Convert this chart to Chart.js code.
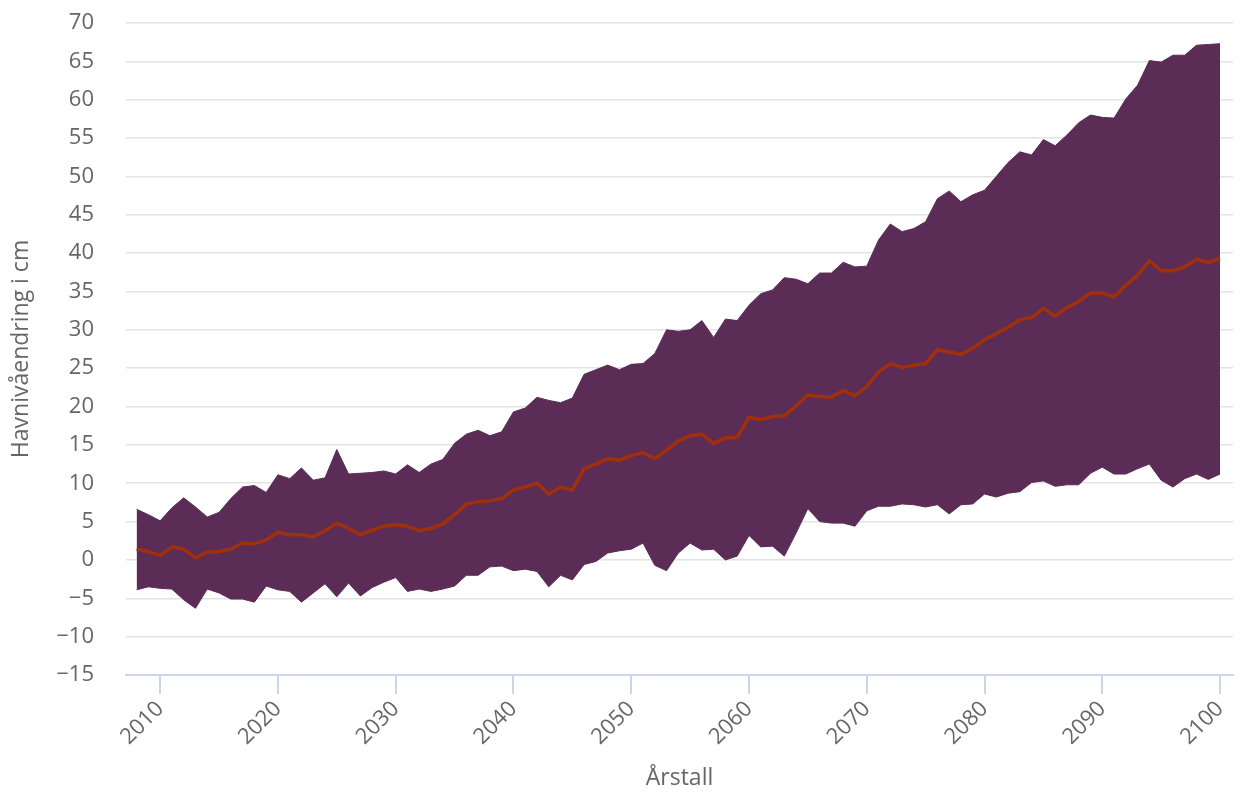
<!DOCTYPE html>
<html>
<head>
<meta charset="utf-8">
<script src="https://cdn.jsdelivr.net/npm/chart.js@4.4.1/dist/chart.umd.min.js"></script>
<style>
html, body { margin: 0; padding: 0; background: #fff; }
#wrap { width: 1241px; height: 794px; }
</style>
</head>
<body>
<div id="wrap"><canvas id="myChart"></canvas></div>
<script>
var years = [2008, 2009, 2010, 2011, 2012, 2013, 2014, 2015, 2016, 2017,
    2018, 2019, 2020, 2021, 2022, 2023, 2024, 2025, 2026, 2027,
    2028, 2029, 2030, 2031, 2032, 2033, 2034, 2035, 2036, 2037,
    2038, 2039, 2040, 2041, 2042, 2043, 2044, 2045, 2046, 2047,
    2048, 2049, 2050, 2051, 2052, 2053, 2054, 2055, 2056, 2057,
    2058, 2059, 2060, 2061, 2062, 2063, 2064, 2065, 2066, 2067,
    2068, 2069, 2070, 2071, 2072, 2073, 2074, 2075, 2076, 2077,
    2078, 2079, 2080, 2081, 2082, 2083, 2084, 2085, 2086, 2087,
    2088, 2089, 2090, 2091, 2092, 2093, 2094, 2095, 2096, 2097,
    2098, 2099, 2100];

// upper edge of the band (cm)
var upper = [6.6, 5.9, 5.1, 6.8, 8.1, 6.9, 5.6, 6.2, 8.0, 9.5,
    9.7, 8.8, 11.1, 10.6, 12.0, 10.4, 10.7, 14.4, 11.2, 11.3,
    11.4, 11.6, 11.2, 12.4, 11.4, 12.5, 13.1, 15.2, 16.4, 16.9,
    16.2, 16.7, 19.3, 19.8, 21.2, 20.8, 20.5, 21.1, 24.2, 24.8,
    25.4, 24.8, 25.5, 25.6, 26.9, 30.0, 29.8, 30.0, 31.2, 29.0,
    31.4, 31.2, 33.2, 34.7, 35.2, 36.8, 36.6, 36.0, 37.4, 37.4,
    38.8, 38.2, 38.3, 41.7, 43.8, 42.8, 43.2, 44.1, 47.1, 48.1,
    46.7, 47.6, 48.2, 50.0, 51.8, 53.2, 52.8, 54.8, 54.0, 55.4,
    57.0, 58.0, 57.7, 57.6, 60.1, 61.9, 65.1, 64.9, 65.8, 65.8,
    67.1, 67.2, 67.3];

// median line (cm)
var median = [1.4, 1.1, 0.6, 1.7, 1.4, 0.3, 1.0, 1.1, 1.4, 2.2,
    2.1, 2.6, 3.6, 3.3, 3.3, 3.0, 3.8, 4.8, 4.1, 3.3,
    3.9, 4.4, 4.6, 4.4, 3.8, 4.1, 4.7, 5.9, 7.3, 7.6,
    7.7, 8.0, 9.1, 9.5, 10.0, 8.6, 9.5, 9.1, 11.9, 12.5,
    13.2, 13.0, 13.6, 14.0, 13.2, 14.3, 15.5, 16.2, 16.4, 15.2,
    15.9, 16.0, 18.6, 18.3, 18.7, 18.8, 20.1, 21.5, 21.3, 21.2,
    22.1, 21.4, 22.6, 24.5, 25.6, 25.1, 25.4, 25.6, 27.4, 27.1,
    26.8, 27.6, 28.7, 29.5, 30.3, 31.3, 31.6, 32.8, 31.8, 32.9,
    33.7, 34.8, 34.8, 34.3, 35.8, 37.1, 39.0, 37.7, 37.7, 38.2,
    39.2, 38.8, 39.3];

// lower edge of the band (cm)
var lower = [-3.9, -3.5, -3.7, -3.8, -5.2, -6.3, -3.8, -4.3, -5.1, -5.1,
    -5.5, -3.4, -3.9, -4.1, -5.5, -4.3, -3.1, -4.8, -3.0, -4.7,
    -3.6, -2.9, -2.3, -4.1, -3.8, -4.1, -3.8, -3.4, -2.0, -2.0,
    -0.9, -0.8, -1.4, -1.2, -1.5, -3.5, -2.0, -2.6, -0.6, -0.2,
    0.9, 1.2, 1.4, 2.2, -0.7, -1.4, 0.9, 2.2, 1.3, 1.4,
    0.0, 0.5, 3.2, 1.7, 1.8, 0.5, 3.5, 6.7, 5.0, 4.8,
    4.8, 4.4, 6.4, 7.0, 7.0, 7.3, 7.2, 6.9, 7.2, 6.0,
    7.2, 7.3, 8.6, 8.2, 8.7, 8.9, 10.1, 10.3, 9.6, 9.8,
    9.8, 11.3, 12.1, 11.2, 11.2, 11.9, 12.5, 10.4, 9.5, 10.6,
    11.2, 10.5, 11.2];

var yearTicks = [2010, 2020, 2030, 2040, 2050, 2060, 2070, 2080, 2090, 2100];

var bandColor = "#5b2c56";
var lineColor = "#a0300c";
var textColor = "#666666";
var fontFamily = "'Open Sans', 'Noto Sans', sans-serif";

function points(values) {
    return values.map(function (v, i) {
        return { x: years[i], y: v };
    });
}

var ctx = document.getElementById("myChart").getContext("2d");

var myChart = new Chart(ctx, {
    type: "line",
    data: {
        datasets: [
            {
                label: "Øvre",
                data: points(upper),
                borderColor: bandColor,
                borderWidth: 1,
                backgroundColor: bandColor,
                pointRadius: 0,
                tension: 0,
                fill: "+1",
                order: 2
            },
            {
                label: "Nedre",
                data: points(lower),
                borderColor: bandColor,
                borderWidth: 1,
                pointRadius: 0,
                tension: 0,
                fill: false,
                order: 3
            },
            {
                label: "Median",
                data: points(median),
                borderColor: lineColor,
                borderWidth: 3.5,
                pointRadius: 0,
                tension: 0,
                fill: false,
                order: 1
            }
        ]
    },
    options: {
        responsive: true,
        maintainAspectRatio: false,
        animation: false,
        layout: {
            padding: { top: 23, right: 8, left: 0, bottom: 0 }
        },
        plugins: {
            legend: { display: false },
            tooltip: { enabled: false }
        },
        scales: {
            x: {
                type: "linear",
                min: 2007.1,
                max: 2101.1,
                afterBuildTicks: function (scale) {
                    scale.ticks = yearTicks.map(function (v) { return { value: v }; });
                },
                afterFit: function (scale) {
                    scale.height = 119;
                    scale.paddingLeft = 0;
                    scale.paddingRight = 0;
                },
                ticks: {
                    autoSkip: false,
                    maxRotation: 45,
                    minRotation: 45,
                    padding: 2,
                    color: textColor,
                    font: { family: fontFamily, size: 22 },
                    callback: function (v) { return String(v); }
                },
                grid: {
                    display: true,
                    drawOnChartArea: false,
                    drawTicks: true,
                    tickLength: 19,
                    color: "#ccd6eb",
                    lineWidth: 2
                },
                border: { display: true, color: "#ccd6eb", width: 2 },
                title: {
                    display: true,
                    text: "Årstall",
                    color: textColor,
                    font: { family: fontFamily, size: 23 },
                    padding: { top: 0, bottom: 2 }
                }
            },
            y: {
                min: -15,
                max: 70,
                afterFit: function (scale) {
                    scale.width = 126;
                    scale.paddingTop = 0;
                    scale.paddingBottom = 0;
                },
                ticks: {
                    stepSize: 5,
                    padding: 32,
                    color: textColor,
                    font: { family: fontFamily, size: 22 },
                    callback: function (v) {
                        return v < 0 ? "\u2212" + Math.abs(v) : String(v);
                    }
                },
                grid: {
                    color: "#e3e3e3",
                    lineWidth: 1.5,
                    drawTicks: false
                },
                border: { display: false },
                title: {
                    display: true,
                    text: "Havnivåendring i cm",
                    color: textColor,
                    font: { family: fontFamily, size: 23 },
                    padding: { top: 8, bottom: 0 }
                }
            }
        }
    }
});
</script>
</body>
</html>
